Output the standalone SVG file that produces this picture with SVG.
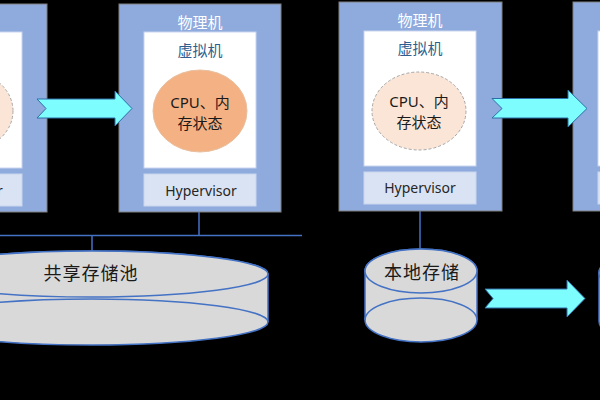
<svg xmlns="http://www.w3.org/2000/svg" width="600" height="400" viewBox="0 0 600 400">
<style>
.outer{fill:#8FAADC;stroke:#7F7F7F;stroke-width:1}
.inner{fill:#FFFFFF;stroke:#C9D5EE;stroke-width:1}
.hyp{fill:#DAE3F3;stroke:#C9D5EE;stroke-width:1}
.vmActive{fill:#F4B183;stroke:#E8C0A0;stroke-width:1}
.vmGhost{fill:#FBE5D6;stroke:#A6A6A6;stroke-width:1;stroke-dasharray:3 2}
.t{font-family:"Noto Sans","Noto Sans CJK SC",sans-serif;text-anchor:middle}
.pm{font-size:15px;fill:#FFFFFF}
.vm{font-size:15px;fill:#2F5F8F}
.cpu{font-size:15px;fill:#1A1A1A}
.hv{font-size:14px;fill:#262626}
.cyl{fill:#D9D9D9;stroke:#4472C4;stroke-width:1.5}
.st{font-size:18px;fill:#1A1A1A;letter-spacing:1px}
.arrow{fill:#7DFDFE;stroke:#2F6FA8;stroke-width:1}
.conn{stroke:#4472C4;stroke-width:1.5;fill:none}
</style>
<rect width="600" height="400" fill="#000000"/>

<g id="connectors">
<line class="conn" x1="-50" y1="235.5" x2="302" y2="235.5"/>
<line class="conn" x1="199" y1="212" x2="199" y2="235.5"/>
<line class="conn" x1="92" y1="235.5" x2="92" y2="251"/>
<line class="conn" x1="420" y1="211" x2="420" y2="249"/>
</g>

<g id="pm1">
<rect class="outer" x="-115" y="4" width="162" height="208"/>
<rect class="inner" x="-90" y="32" width="112" height="136"/>
<ellipse class="vmGhost" cx="-34" cy="111" rx="47" ry="40"/>
<rect class="hyp" x="-90" y="174" width="112" height="32"/>
<text class="t hv" x="-33" y="195.5">Hypervisor</text>
</g>

<g id="pm2">
<rect class="outer" x="119" y="4" width="162" height="208"/>
<text class="t pm" x="200" y="27.5">物理机</text>
<rect class="inner" x="144" y="32" width="112" height="136"/>
<text class="t vm" x="200" y="55.5">虚拟机</text>
<ellipse class="vmActive" cx="200" cy="111" rx="47" ry="41"/>
<text class="t cpu" x="200" y="107.5">CPU、内</text>
<text class="t cpu" x="200" y="128.5">存状态</text>
<rect class="hyp" x="144" y="174" width="112" height="32"/>
<text class="t hv" x="201" y="195.5">Hypervisor</text>
</g>

<g id="pm3">
<rect class="outer" x="339" y="2" width="163" height="209"/>
<text class="t pm" x="420" y="25.5">物理机</text>
<rect class="inner" x="364" y="31" width="112" height="135"/>
<text class="t vm" x="420" y="53.5">虚拟机</text>
<ellipse class="vmGhost" cx="419" cy="111" rx="47" ry="39"/>
<text class="t cpu" x="419" y="107">CPU、内</text>
<text class="t cpu" x="419" y="127.5">存状态</text>
<rect class="hyp" x="364" y="172" width="112" height="32"/>
<text class="t hv" x="420" y="193">Hypervisor</text>
</g>

<g id="pm4">
<rect class="outer" x="573" y="2" width="163" height="209"/>
<rect class="inner" x="598" y="31" width="112" height="135"/>
<rect class="hyp" x="598" y="172" width="112" height="32"/>
</g>

<g id="shared-storage">
<path class="cyl" d="M -84 274 A 176 23 0 0 1 268 274 L 268 322 A 176 23 0 0 1 -84 322 Z"/>
<ellipse class="cyl" cx="92" cy="274" rx="176" ry="23"/>
<path class="conn" d="M -84 322 A 176 23 0 0 1 268 322"/>
<text class="t st" x="91" y="280">共享存储池</text>
</g>

<g id="local-storage">
<path class="cyl" d="M 365 271 A 56 22 0 0 1 477 271 L 477 320 A 56 22 0 0 1 365 320 Z"/>
<ellipse class="cyl" cx="421" cy="271" rx="56" ry="22"/>
<path class="conn" d="M 365 320 A 56 22 0 0 1 477 320"/>
<text class="t st" x="422" y="279">本地存储</text>
</g>

<g id="local-storage-2">
<path class="cyl" d="M 599 273 A 56 22 0 0 1 711 273 L 711 321 A 56 22 0 0 1 599 321 Z"/>
<ellipse class="cyl" cx="655" cy="273" rx="56" ry="22"/>
</g>

<g id="arrows">
<polygon class="arrow" points="37,99 115,99 115,91 132,108.5 115,126 115,118 37,118 46,108.5"/>
<polygon class="arrow" points="492,98.5 568,98.5 568,90 587,108.5 568,127 568,118 492,118 502,108.5"/>
<polygon class="arrow" points="485,289 567,289 567,280 585,298.5 567,317 567,308 485,308 493,298.5"/>
</g>
</svg>
